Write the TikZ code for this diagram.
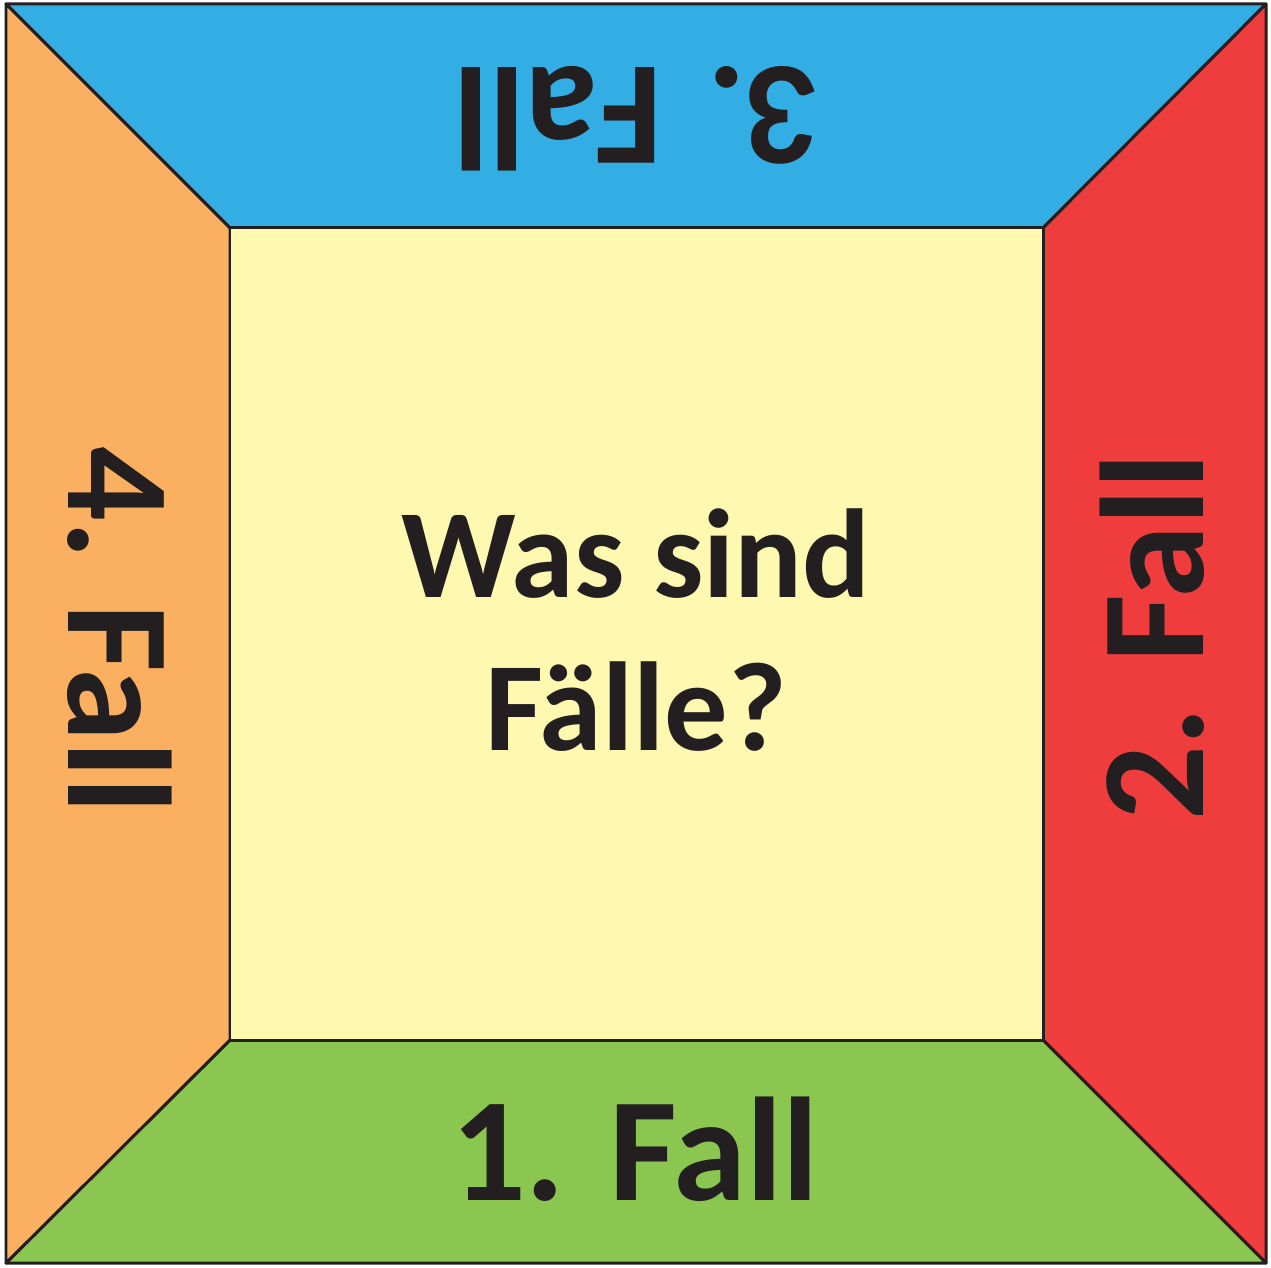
\documentclass[tikz,border=0pt]{standalone}
\usepackage{fontspec}
\setmainfont{Carlito}
\usepackage{xcolor}
\definecolor{caseblue}{RGB}{51,174,229}
\definecolor{casered}{RGB}{239,61,62}
\definecolor{casegreen}{RGB}{138,198,80}
\definecolor{caseorange}{RGB}{251,176,97}
\definecolor{caseyellow}{RGB}{255,248,176}
\definecolor{ink}{RGB}{35,31,32}
\usepackage{tikz}
\usetikzlibrary{calc}

\begin{document}
\begin{tikzpicture}[
  panel/.style={draw=ink, line width=0.85pt, line join=round},
  big/.style={font=\fontsize{42}{50}\selectfont\bfseries, text=ink, inner sep=0pt, anchor=base},
  mid/.style={font=\fontsize{36}{43}\selectfont\bfseries, text=ink, inner sep=0pt, anchor=base}
]
\useasboundingbox (0,0) rectangle (12.71,12.67);

% corners
\coordinate (OTL) at (0.06,12.63);
\coordinate (OTR) at (12.66,12.63);
\coordinate (OBL) at (0.06,0.04);
\coordinate (OBR) at (12.66,0.04);
\coordinate (ITL) at (2.30,10.39);
\coordinate (ITR) at (10.43,10.39);
\coordinate (IBL) at (2.30,2.27);
\coordinate (IBR) at (10.43,2.27);

% frame
\filldraw[panel, fill=caseblue]   (OTL) -- (OTR) -- (ITR) -- (ITL) -- cycle;
\filldraw[panel, fill=casered]    (OTR) -- (OBR) -- (IBR) -- (ITR) -- cycle;
\filldraw[panel, fill=casegreen]  (OBR) -- (OBL) -- (IBL) -- (IBR) -- cycle;
\filldraw[panel, fill=caseorange] (OBL) -- (OTL) -- (ITL) -- (IBL) -- cycle;
\filldraw[panel, fill=caseyellow] (ITL) rectangle (IBR);

% labels
\node[big] (fall1) at (6.35,0.67) {1. Fall};
\node[big, rotate=90] (fall2) at (12.03,6.30) {2. Fall};
\node[big, rotate=180] (fall3) at (6.37,11.99) {3. Fall};
\node[big, rotate=-90] (fall4) at (0.68,6.37) {4. Fall};

\node[mid] (ask1) at (6.36,6.69) {Was sind};
\node[mid] (ask2) at (6.36,5.17) {Fälle?};

\end{tikzpicture}
\end{document}
